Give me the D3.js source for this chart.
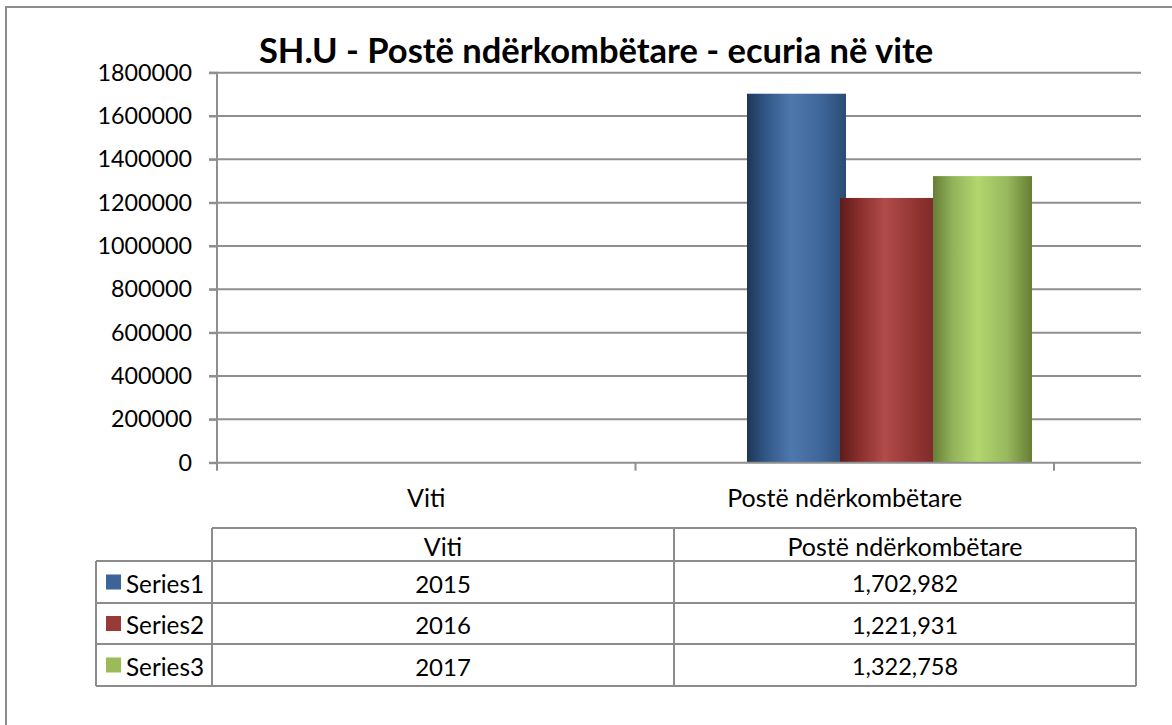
<!DOCTYPE html>
<html><head><meta charset="utf-8">
<script src="https://cdn.jsdelivr.net/npm/d3@7"></script>
<style>
html,body{margin:0;padding:0;background:#fff;overflow:hidden}
text{font-family:Lato,"Open Sans",sans-serif;fill:#000}
</style></head>
<body><svg id="c" width="1172" height="725"></svg>
<script>
const categories = ["Viti", "Postë ndërkombëtare"];
const seriesNames = ["Series1", "Series2", "Series3"];
const vitiValues = [2015, 2016, 2017];
const posteValues = [1702982, 1221931, 1322758];
const yTicks = [0, 200000, 400000, 600000, 800000, 1000000, 1200000, 1400000, 1600000, 1800000];
const title = "SH.U - Postë ndërkombëtare - ecuria në vite";
const seriesColors = ["#3b6598", "#973a38", "#9bbb59"];
const gradStops = [
  ["#1d3657", "#33598a", "#4e78ad", "#3f6699", "#2a4b76"],
  ["#5e1c1c", "#8a2f2d", "#b04c4a", "#933634", "#782726"],
  ["#667f35", "#93b35a", "#b3d66e", "#98b85d", "#657f33"]
];

const svg = d3.select("#c");
const fmt = d3.format(",");

// outer frame
svg.append("rect").attr("x", 6).attr("y", 7).attr("width", 1300).attr("height", 900)
  .attr("fill", "none").attr("stroke", "#8c8c8c").attr("stroke-width", 2);

const defs = svg.append("defs");
gradStops.forEach((st, i) => {
  const g = defs.append("linearGradient").attr("id", "g" + i)
    .attr("x1", "0%").attr("x2", "100%").attr("y1", "0%").attr("y2", "0%");
  [0, 0.2, 0.45, 0.75, 1].forEach((o, k) => g.append("stop").attr("offset", o).attr("stop-color", st[k]));
});

const plotLeft = 217, plotRight = 1141, plotTop = 72.7, plotBottom = 462.7;
const y = d3.scaleLinear().domain([0, 1800000]).range([plotBottom, plotTop]);
const x0 = d3.scaleBand().domain(categories).range([217, 1054]).padding(0);
const x1 = d3.scaleBand().domain(seriesNames).range([111.5, 390.5]).padding(0);

// gridlines
svg.append("g").selectAll("line").data(yTicks.slice(1)).join("line")
  .attr("x1", 209).attr("x2", plotRight)
  .attr("y1", d => y(d)).attr("y2", d => y(d))
  .attr("stroke", "#8f8f8f").attr("stroke-width", 2);

// y axis
const yAxis = svg.append("g").attr("transform", `translate(${plotLeft},0)`)
  .call(d3.axisLeft(y).tickValues(yTicks).tickSize(8).tickPadding(17).tickFormat(d3.format("d")));
yAxis.select(".domain").attr("stroke", "#8f8f8f").attr("stroke-width", 2)
  .attr("d", `M-8,${plotTop}H0V${plotBottom}H-8`);
yAxis.selectAll(".tick line").attr("stroke", "#8f8f8f").attr("stroke-width", 2);
yAxis.selectAll(".tick text").attr("font-size", 23.3).attr("font-family", "Lato").attr("fill", "#000");

// bars
const data = [];
seriesNames.forEach((s, i) => {
  data.push({cat: categories[0], s, i, v: vitiValues[i]});
  data.push({cat: categories[1], s, i, v: posteValues[i]});
});
svg.append("g").selectAll("rect").data(data).join("rect")
  .attr("x", d => x0(d.cat) + x1(d.s))
  .attr("width", x1.bandwidth() + 6)
  .attr("y", d => y(d.v))
  .attr("height", d => y(0) - y(d.v))
  .attr("fill", d => `url(#g${d.i})`);

// x axis
const xAxisG = svg.append("g");
xAxisG.append("line").attr("x1", plotLeft).attr("x2", plotRight)
  .attr("y1", y(0)).attr("y2", y(0)).attr("stroke", "#8f8f8f").attr("stroke-width", 2);
const bounds = [x0.range()[0], ...categories.map(c => x0(c) + x0.bandwidth())];
xAxisG.selectAll(".tk").data(bounds).join("line").attr("class", "tk")
  .attr("x1", d => d).attr("x2", d => d).attr("y1", y(0)).attr("y2", y(0) + 8)
  .attr("stroke", "#8f8f8f").attr("stroke-width", 2);
xAxisG.selectAll("text").data(categories).join("text")
  .attr("x", d => x0(d) + x0.bandwidth() / 2).attr("y", 497)
  .attr("text-anchor", "middle").attr("dominant-baseline", "central")
  .attr("font-size", 25).text(d => d);

// title
svg.append("text").attr("x", 596).attr("y", 63).attr("text-anchor", "middle")
  .attr("font-size", 34.5).attr("font-weight", "bold").text(title);

// data table
const colX = [96, 212, 674, 1136];
const rowY = [528, 561, 603, 644, 686];
const tg = svg.append("g");
const tStroke = "#8c8c8c";
rowY.forEach((ry, k) => {
  tg.append("line").attr("x1", k === 0 ? colX[1] : colX[0]).attr("x2", colX[3])
    .attr("y1", ry).attr("y2", ry).attr("stroke", tStroke).attr("stroke-width", 2);
});
colX.forEach((cx, k) => {
  tg.append("line").attr("x1", cx).attr("x2", cx)
    .attr("y1", k === 0 ? rowY[1] : rowY[0]).attr("y2", rowY[4])
    .attr("stroke", tStroke).attr("stroke-width", 2);
});
categories.forEach((c, k) => {
  tg.append("text").attr("x", (colX[k + 1] + colX[k + 2]) / 2).attr("y", (rowY[0] + rowY[1]) / 2 + 1)
    .attr("text-anchor", "middle").attr("dominant-baseline", "central").attr("font-size", 25).text(c);
});
seriesNames.forEach((s, i) => {
  const cy = (rowY[i + 1] + rowY[i + 2]) / 2;
  tg.append("rect").attr("x", 106).attr("y", cy - 7.5).attr("width", 15).attr("height", 15)
    .attr("fill", seriesColors[i]);
  tg.append("text").attr("x", 126).attr("y", cy + 1).attr("dominant-baseline", "central")
    .attr("font-size", 24.3).text(s);
  tg.append("text").attr("x", (colX[1] + colX[2]) / 2).attr("y", cy + 1)
    .attr("text-anchor", "middle").attr("dominant-baseline", "central").attr("font-size", 24).text(vitiValues[i]);
  tg.append("text").attr("x", (colX[2] + colX[3]) / 2).attr("y", cy + 1)
    .attr("text-anchor", "middle").attr("dominant-baseline", "central").attr("font-size", 23.5).text(fmt(posteValues[i]));
});
</script></body></html>
